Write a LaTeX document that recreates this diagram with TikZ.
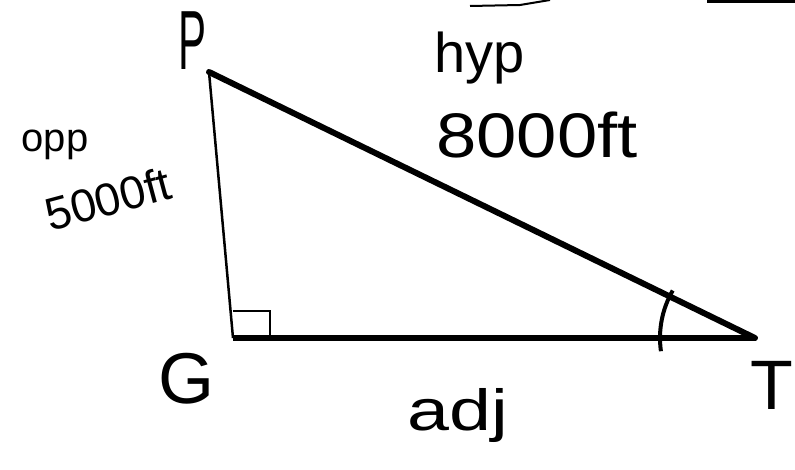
\documentclass[tikz,border=0pt]{standalone}
\usepackage{fontspec}
\setmainfont{Liberation Sans}

\begin{document}
\begin{tikzpicture}[x=1pt,y=-1pt,
  thinleg/.style={line width=2.5pt},
  thickleg/.style={line width=6pt},
  hand/.style={inner sep=0pt,anchor=base}]

 \useasboundingbox (0,0) rectangle (795,470);

 %Vertices
 \coordinate (P) at (209,72);
 \coordinate (G) at (233,338);
 \coordinate (T) at (755,338);

 %Sides of the triangle
 \draw[thinleg] (P) -- (G);
 \draw[thickleg] (G) -- (T);
 \draw[thickleg,line cap=round] (P) -- (T);

 %right angle at G
 \draw[thinleg] (G) ++(0,-27) -- ++(37,0) -- ++(0,27);

 %angle at T
 \draw[line width=4pt] (T) ++(172:95) arc (172:210:95);

 %cut-off strokes at the top
 \draw[line width=2pt] (470,6) -- (520,5) -- (550,0);
 \draw[line width=3pt] (707,2) -- (795,2);

 %Vertex labels
 \node[hand,font=\fontsize{84}{84}\selectfont,xscale=0.5] (plab) at (193,70) {P};
 \node[font=\fontsize{72}{72}\selectfont,inner sep=0pt] (glab) at (186,379) {G};
 \node[font=\fontsize{70}{70}\selectfont,inner sep=0pt] (tlab) at (772,385) {T};

 %Side labels
 \node[hand,font=\fontsize{56}{56}\selectfont] (hyplab) at (480,73) {hyp};
 \node[hand,font=\fontsize{63}{63}\selectfont,xscale=1.15] (hyplen) at (537,158) {8000ft};
 \node[hand,font=\fontsize{40}{40}\selectfont] (opplab) at (55,152) {opp};
 \node[font=\fontsize{46}{46}\selectfont,inner sep=0pt,rotate=15] (opplen) at (108,199) {5000ft};
 \node[hand,font=\fontsize{58}{58}\selectfont,xscale=1.3] (adjlab) at (458,430) {adj};

\end{tikzpicture}
\end{document}
